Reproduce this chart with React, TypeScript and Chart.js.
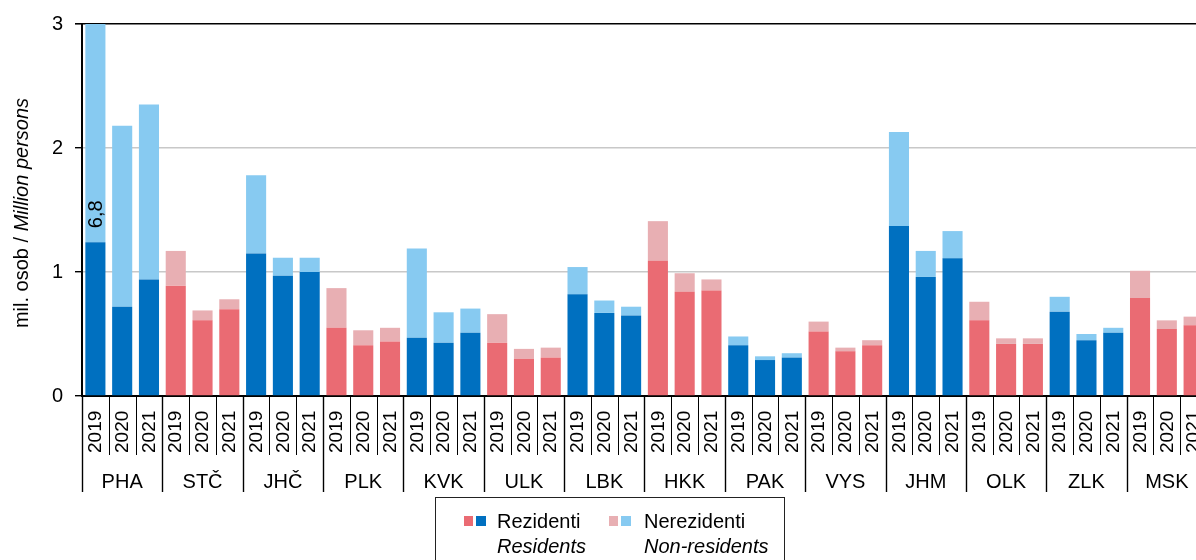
import React, { useEffect, useRef } from "react";
import { Chart, registerables } from "chart.js";

Chart.register(...registerables);

const FONT = '"Liberation Sans", Arial, Helvetica, sans-serif';

const regions = ["PHA", "STČ", "JHČ", "PLK", "KVK", "ULK", "LBK", "HKK", "PAK", "VYS", "JHM", "OLK", "ZLK", "MSK"];
const years = ["2019", "2020", "2021"];

// million persons, per region: 2019, 2020, 2021
const residents = [
  1.24, 0.72, 0.94, // PHA
  0.89, 0.61, 0.70, // STČ
  1.15, 0.97, 1.00, // JHČ
  0.55, 0.41, 0.44, // PLK
  0.47, 0.43, 0.51, // KVK
  0.43, 0.30, 0.31, // ULK
  0.82, 0.67, 0.65, // LBK
  1.09, 0.84, 0.85, // HKK
  0.41, 0.29, 0.31, // PAK
  0.52, 0.36, 0.41, // VYS
  1.37, 0.96, 1.11, // JHM
  0.61, 0.42, 0.42, // OLK
  0.68, 0.45, 0.51, // ZLK
  0.79, 0.54, 0.57, // MSK
];
const nonResidents = [
  5.56, 1.46, 1.41, // PHA
  0.28, 0.08, 0.08, // STČ
  0.63, 0.145, 0.115, // JHČ
  0.32, 0.12, 0.11, // PLK
  0.72, 0.245, 0.195, // KVK
  0.23, 0.08, 0.08, // ULK
  0.22, 0.10, 0.07, // LBK
  0.32, 0.15, 0.09, // HKK
  0.07, 0.03, 0.035, // PAK
  0.08, 0.03, 0.04, // VYS
  0.76, 0.21, 0.22, // JHM
  0.15, 0.045, 0.045, // OLK
  0.12, 0.05, 0.04, // ZLK
  0.22, 0.07, 0.07, // MSK
];
const yMax = 3;
const yStep = 1;

const yTitleNormal = "mil. osob / ";
const yTitleItalic = "Million persons";
const legendItems = [
  { cz: "Rezidenti", en: "Residents", colors: ["#EA6B73", "#0070C0"] },
  { cz: "Nerezidenti", en: "Non-residents", colors: ["#E8AFB3", "#87CAF1"] },
];

const RES_RED = "#EA6B73";
const RES_BLUE = "#0070C0";
const NON_RED = "#E8AFB3";
const NON_BLUE = "#87CAF1";

const categoryLabels = regions.flatMap((r) => years.map((y) => `${r} ${y}`));
const resColors = categoryLabels.map((_, i) => (Math.floor(i / 3) % 2 === 0 ? RES_BLUE : RES_RED));
const nonColors = categoryLabels.map((_, i) => (Math.floor(i / 3) % 2 === 0 ? NON_BLUE : NON_RED));

const decoPlugin = {
  id: "deco",
  afterDraw(chart: any) {
    const { ctx, chartArea, scales } = chart;
    const x = scales.x;
    const y = scales.y;
    const n = categoryLabels.length;
    const catW = x.getPixelForValue(1) - x.getPixelForValue(0);
    const bottom = chartArea.bottom;
    ctx.save();
    ctx.fillStyle = "#000";
    ctx.strokeStyle = "#000";

    // year labels
    ctx.font = `19px ${FONT}`;
    for (let i = 0; i < n; i++) {
      const cx = x.getPixelForValue(i);
      ctx.save();
      ctx.translate(cx + 0.5, bottom + 57);
      ctx.rotate(-Math.PI / 2);
      ctx.textAlign = "left";
      ctx.textBaseline = "middle";
      ctx.fillText(years[i % 3], 0, 0);
      ctx.restore();
    }

    // separators
    for (let i = 0; i <= n; i++) {
      const px = Math.round(x.getPixelForValue(0) - catW / 2 + i * catW);
      const isGroup = i % 3 === 0;
      ctx.beginPath();
      ctx.lineWidth = isGroup ? 1.4 : 1;
      ctx.moveTo(px + 0.5, bottom);
      ctx.lineTo(px + 0.5, bottom + (isGroup ? 96 : 59));
      ctx.stroke();
    }

    // group labels
    ctx.font = `20px ${FONT}`;
    ctx.textAlign = "center";
    ctx.textBaseline = "alphabetic";
    regions.forEach((r, g) => {
      const cx = x.getPixelForValue(g * 3 + 1);
      ctx.fillText(r, cx, bottom + 92);
    });

    // overflow value labels (bars taller than the axis)
    ctx.font = `20px ${FONT}`;
    for (let i = 0; i < n; i++) {
      const total = residents[i] + nonResidents[i];
      if (total > yMax) {
        const cx = x.getPixelForValue(i);
        const yStart = y.getPixelForValue(residents[i]) - 14;
        ctx.save();
        ctx.translate(cx + 1, yStart);
        ctx.rotate(-Math.PI / 2);
        ctx.textAlign = "left";
        ctx.textBaseline = "middle";
        ctx.fillText(total.toFixed(1).replace(".", ","), 0, 0);
        ctx.restore();
      }
    }

    // y axis title
    ctx.save();
    ctx.translate(22, 213);
    ctx.rotate(-Math.PI / 2);
    ctx.textBaseline = "middle";
    ctx.textAlign = "left";
    ctx.font = `20px ${FONT}`;
    const w1 = ctx.measureText(yTitleNormal).width;
    ctx.font = `italic 20px ${FONT}`;
    const w2 = ctx.measureText(yTitleItalic).width;
    const start = -(w1 + w2) / 2;
    ctx.font = `20px ${FONT}`;
    ctx.fillText(yTitleNormal, start, 0);
    ctx.font = `italic 20px ${FONT}`;
    ctx.fillText(yTitleItalic, start + w1, 0);
    ctx.restore();

    // legend box
    ctx.lineWidth = 1;
    ctx.strokeStyle = "#222";
    ctx.strokeRect(435.5, 497.5, 349, 90);
    const itemX = [464, 609];
    const textX = [497, 644];
    legendItems.forEach((it, k) => {
      ctx.fillStyle = it.colors[0];
      ctx.fillRect(itemX[k], 516, 9, 10);
      ctx.fillStyle = it.colors[1];
      ctx.fillRect(itemX[k] + 12, 516, 10, 10);
      ctx.fillStyle = "#000";
      ctx.textAlign = "left";
      ctx.textBaseline = "alphabetic";
      ctx.font = `20px ${FONT}`;
      ctx.fillText(it.cz, textX[k], 528);
      ctx.font = `italic 20px ${FONT}`;
      ctx.fillText(it.en, textX[k], 553);
    });

    ctx.restore();
  },
};

export default function App() {
  const canvasRef = useRef<HTMLCanvasElement | null>(null);

  useEffect(() => {
    if (!canvasRef.current) return;
    const chart = new Chart(canvasRef.current, {
      type: "bar",
      data: {
        labels: categoryLabels,
        datasets: [
          {
            label: "Rezidenti",
            data: residents,
            backgroundColor: resColors,
            borderWidth: 0,
            barPercentage: 0.75,
            categoryPercentage: 1,
          },
          {
            label: "Nerezidenti",
            data: nonResidents,
            backgroundColor: nonColors,
            borderWidth: 0,
            barPercentage: 0.75,
            categoryPercentage: 1,
          },
        ],
      },
      options: {
        responsive: false,
        animation: false,
        layout: { padding: { top: 22, bottom: 164, left: 0, right: 13 } },
        plugins: {
          legend: { display: false },
          tooltip: { enabled: false },
        },
        scales: {
          x: {
            stacked: true,
            afterFit: (s: any) => {
              s.height = 0;
            },
            ticks: { display: false },
            grid: { display: false },
            border: { display: true, color: "#000", width: 2 },
          },
          y: {
            stacked: true,
            min: 0,
            max: yMax,
            afterFit: (s: any) => {
              s.width = 82;
            },
            ticks: {
              stepSize: yStep,
              color: "#000",
              padding: 12,
              font: { size: 20, family: FONT },
            },
            grid: {
              color: (c: any) => (c.tick && c.tick.value === yMax ? "#000" : "#c8c8c8"),
              lineWidth: (c: any) => (c.tick && c.tick.value === yMax ? 1.6 : 1.4),
              tickColor: "#000",
              tickLength: 7,
              drawTicks: true,
            },
            border: { display: true, color: "#000", width: 2 },
          },
        },
      },
      plugins: [decoPlugin],
    });
    return () => chart.destroy();
  }, []);

  return (
    <div
      style={{
        position: "fixed",
        left: 0,
        top: 0,
        width: 1196,
        height: 560,
        overflow: "hidden",
        background: "#fff",
      }}
    >
      <canvas ref={canvasRef} width={1220} height={560} style={{ display: "block", width: 1220, height: 560 }} />
    </div>
  );
}
